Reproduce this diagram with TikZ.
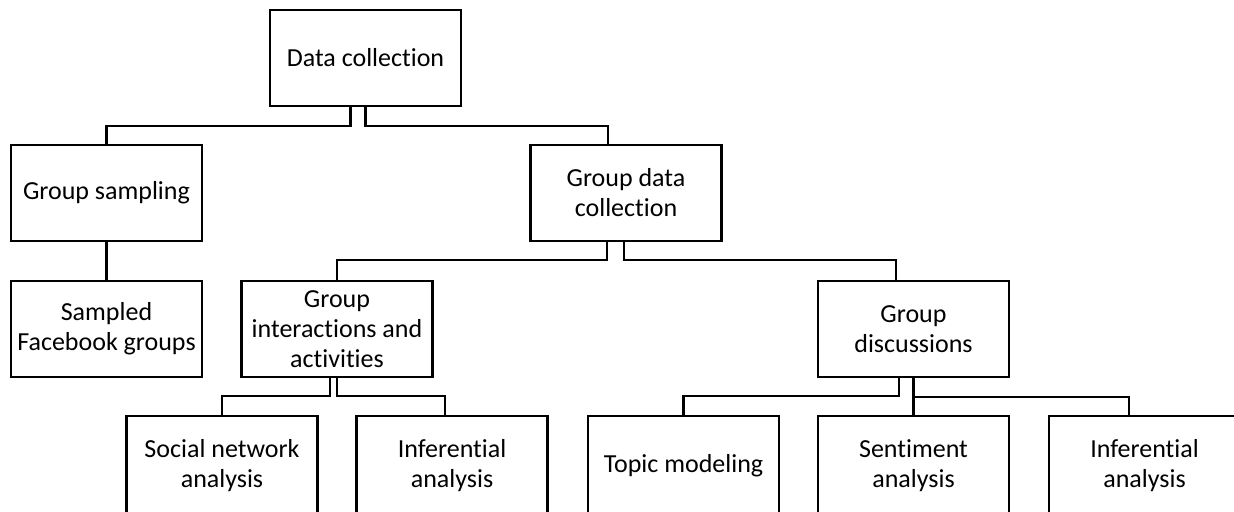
\documentclass[tikz,border=0pt]{standalone}
\usepackage{fontspec}
\setmainfont{Carlito}[Ligatures=NoCommon]
\usepackage{tikz}

\begin{document}
\begin{tikzpicture}[
        x=0.5pt,
        y=-0.5pt,
        line width=1.2pt,
        every node/.style={
                font=\fontsize{13pt}{15pt}\selectfont,
                align=center,
            },
        box/.style={draw, minimum width=95.5pt, minimum height=48pt, inner sep=0pt},
        lowbox/.style={box, minimum height=50pt},
    ]

    \useasboundingbox (0,0) rectangle (1234,512);
    \clip (0,0) rectangle (1234,512);

    \node[box] (dc) at (365.5,58) {Data collection};
    \node[box] (gs) at (106.5,193) {Group sampling};
    \node[box] (gdc) at (626,193) {Group data\\collection};
    \node[box] (sfg) at (106.5,329) {Sampled\\Facebook groups};
    \node[box] (gia) at (337,329) {Group\\interactions and\\activities};
    \node[box] (gd) at (913.5,329) {Group\\discussions};

    \foreach \n/\x/\t in {sna/222/{Social network\\analysis},
            ia1/452/{Inferential\\analysis},
            tm/683.5/{Topic modeling},
            sa/913.5/{Sentiment\\analysis},
            ia2/1144.5/{Inferential\\analysis}}{
            \node[lowbox] (\n) at (\x,466) {\t};
        }

    \draw ([xshift=-7.5pt]dc.south) -- ++(0,19) -| (gs.north);
    \draw (dc.south) -- ++(0,19) -| ([xshift=-9pt]gdc.north);
    \draw (gs) -- (sfg);

    \draw ([xshift=-9.5pt]gdc.south) -- ++(0,18) -| (gia.north);
    \draw ([xshift=-1pt]gdc.south) -- ++(0,18) -| ([xshift=-8.75pt]gd.north);

    \draw ([xshift=-3.5pt]gia.south) -- ++(0,18) -| (sna.north);
    \draw (gia.south) -- ++(0,18) -| ([xshift=-3.5pt]ia1.north);

    \draw ([xshift=-7.25pt]gd.south) -- ++(0,18) -| (tm.north);
    \draw (gd.south) -- (sa.north);
    \draw ([yshift=-9.5pt]gd.south) -| ([xshift=-7.75pt]ia2.north);
\end{tikzpicture}
\end{document}
